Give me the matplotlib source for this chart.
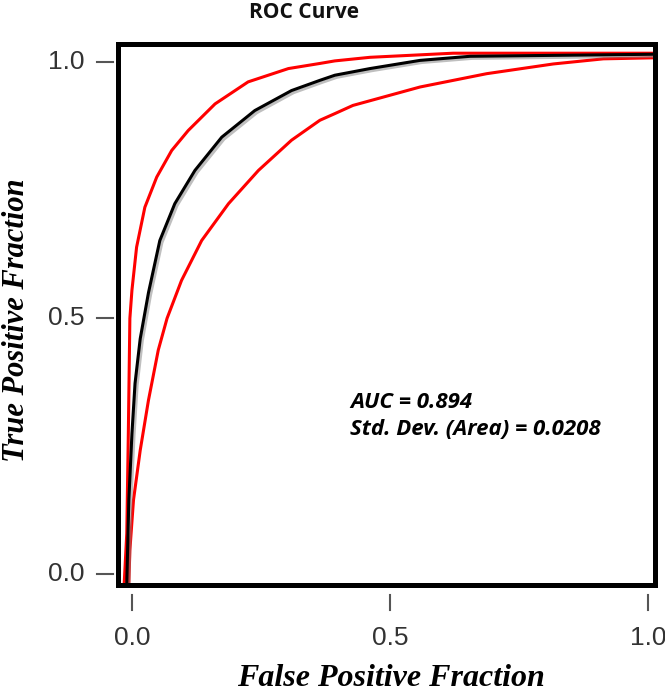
import matplotlib
matplotlib.use("Agg")
import matplotlib.pyplot as plt
import matplotlib.patheffects as pe

# ROC curve (fpr, tpr)
roc_fpr = [-0.010, -0.006, 0.000, 0.006, 0.016, 0.032, 0.054, 0.083, 0.122, 0.174,
           0.238, 0.309, 0.364, 0.393, 0.461, 0.558, 0.655, 1.013]
roc_tpr = [-0.018, 0.145, 0.275, 0.373, 0.460, 0.550, 0.652, 0.724, 0.789, 0.854,
           0.906, 0.945, 0.965, 0.975, 0.988, 1.004, 1.012, 1.016]

# upper confidence bound
upper_fpr = [-0.015, -0.010, -0.007, -0.004, 0.000, 0.009, 0.025, 0.048, 0.077, 0.109,
             0.161, 0.225, 0.303, 0.364, 0.393, 0.461, 0.622, 1.013]
upper_tpr = [-0.018, 0.080, 0.275, 0.500, 0.555, 0.639, 0.717, 0.776, 0.828, 0.867,
             0.919, 0.962, 0.988, 0.998, 1.003, 1.010, 1.018, 1.018]

# lower confidence bound
lower_fpr = [-0.006, -0.004, 0.003, 0.016, 0.032, 0.051, 0.068, 0.096, 0.135, 0.187,
             0.245, 0.309, 0.364, 0.393, 0.428, 0.558, 0.687, 0.816, 0.913, 1.010]
lower_tpr = [-0.018, 0.047, 0.145, 0.242, 0.340, 0.438, 0.500, 0.574, 0.652, 0.724,
             0.789, 0.848, 0.887, 0.900, 0.916, 0.952, 0.978, 0.997, 1.007, 1.009]

ticks = [0.0, 0.5, 1.0]
tick_labels = ["0.0", "0.5", "1.0"]
auc_text = "AUC = 0.894\nStd. Dev. (Area) = 0.0208"

W, H = 665, 692
fig = plt.figure(figsize=(W / 100, H / 100), dpi=100)
ax = fig.add_axes([118 / W, 1 - 585 / H, 537 / W, 541 / H])

ax.plot(upper_fpr, upper_tpr, color="#ff0000", lw=2.2)
ax.plot(lower_fpr, lower_tpr, color="#ff0000", lw=2.2)
ax.plot(roc_fpr, roc_tpr, color="black", lw=2.2,
        path_effects=[pe.SimpleLineShadow(offset=(1.5, -1.5), shadow_color="gray", alpha=0.5),
                      pe.Normal()])

ax.set_xlim(-0.027, 1.013)
ax.set_ylim(-0.021, 1.036)
for s in ax.spines.values():
    s.set_linewidth(3.6)
    s.set_color("black")

# detached R-style ticks
ax.set_xticks([])
ax.set_yticks([])
ytr = ax.get_yaxis_transform()
xtr = ax.get_xaxis_transform()
for t, lab in zip(ticks, tick_labels):
    ax.plot([-0.039, -0.009], [t, t], transform=ytr, color="#555555", lw=1.5, clip_on=False)
    ax.text(-0.063, t, lab, transform=ytr, ha="right", va="center",
            fontsize=19, color="#333333", family="Liberation Sans")
    ax.plot([t, t], [-0.018, -0.046], transform=xtr, color="#555555", lw=1.5, clip_on=False)
    ax.text(t, -0.075, lab, transform=xtr, ha="center", va="top",
            fontsize=19, color="#333333", family="Liberation Sans")

fig.text(304 / W, 1 - 13 / H, "ROC Curve", ha="center", va="center",
         fontsize=15, fontweight="bold", family="Open Sans", color="#111111")
fig.text(17 / W, 1 - 320 / H, "True Positive Fraction", rotation=90, ha="center", va="center",
         fontsize=22, fontweight="bold", fontstyle="italic", family="Liberation Serif")
fig.text(391 / W, 1 - 678 / H, "False Positive Fraction", ha="center", va="center",
         fontsize=23, fontweight="bold", fontstyle="italic", family="Liberation Serif")
fig.text(350 / W, 1 - 392 / H, auc_text, ha="left", va="top", linespacing=1.35,
         fontsize=16, fontweight="bold", fontstyle="italic", family="Open Sans")

fig.savefig("out.png", dpi=100)
